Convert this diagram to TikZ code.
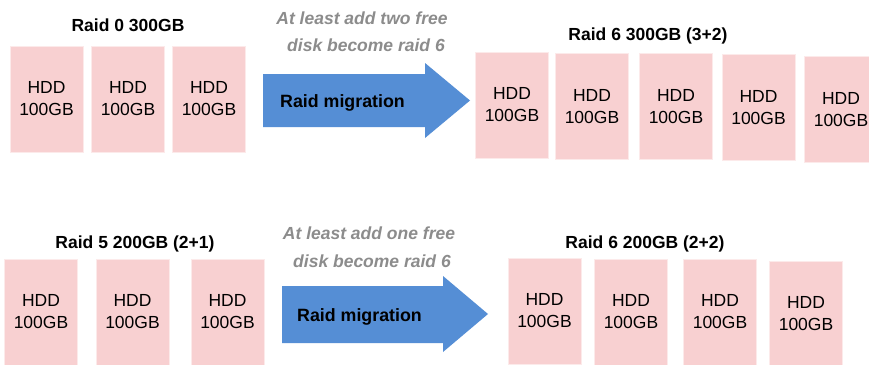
\documentclass[tikz,border=0pt]{standalone}
\usepackage{fontspec}
\setmainfont{Liberation Sans}
\definecolor{hddpink}{HTML}{F8D0D1}
\definecolor{migblue}{HTML}{558ED5}
\definecolor{hintgray}{HTML}{8C8C8C}
\tikzset{
  hdd/.style={fill=hddpink, draw=hddpink!45!white, line width=0.8pt,
    minimum width=73pt, minimum height=106pt, inner sep=0pt, align=center,
    font=\fontsize{17.5}{22}\selectfont},
  raidtitle/.style={anchor=base, inner sep=0pt, font=\bfseries\fontsize{17.5}{21}\selectfont},
  hint/.style={anchor=base, inner sep=0pt, text=hintgray, font=\bfseries\itshape\fontsize{17.5}{21}\selectfont},
  migtext/.style={anchor=base west, inner sep=0pt, font=\bfseries\fontsize{17.8}{21}\selectfont},
}
\begin{document}
\begin{tikzpicture}[x=1pt,y=-1pt]
    \clip (0,0) rectangle (869,364);
    \fill[white] (0,0) rectangle (869,364);

    % Raid 0 to Raid 6 (3+2)
    \node[raidtitle] (r0) at (128,31) {Raid 0 300GB};
    \foreach \i/\x in {1/46.5, 2/128, 3/209} {
        \node[hdd] (r0d\i) at (\x,99) {HDD\\100GB};
    }
    \node[hint] (h1a) at (362,24) {At least add two free};
    \node[hint] (h1b) at (366,51) {disk become raid 6};
    \fill[migblue] (263,74) -- (425,74) -- (425,63) -- (470,100.5)
        -- (425,138) -- (425,127) -- (263,127) -- cycle;
    \node[migtext] (m1) at (280,107) {Raid migration};
    \node[raidtitle] (r6a) at (648,40) {Raid 6 300GB (3+2)};
    \foreach \i/\x/\y in {1/512/105, 2/592/106.5, 3/676/106.5, 4/758.5/107.5, 5/841/109.5} {
        \node[hdd] (r6ad\i) at (\x,\y) {HDD\\100GB};
    }

    % Raid 5 to Raid 6 (2+2)
    \node[raidtitle] (r5) at (135,248) {Raid 5 200GB (2+1)};
    \foreach \i/\x in {1/41, 2/132.5, 3/227.5} {
        \node[hdd] (r5d\i) at (\x,312) {HDD\\100GB};
    }
    \node[hint] (h2a) at (369,239) {At least add one free};
    \node[hint] (h2b) at (372,267) {disk become raid 6};
    \fill[migblue] (282,286) -- (443,286) -- (443,276) -- (488,314)
        -- (443,352) -- (443,343) -- (282,343) -- cycle;
    \node[migtext] (m2) at (297,321) {Raid migration};
    \node[raidtitle] (r6b) at (645,248) {Raid 6 200GB (2+2)};
    \foreach \i/\x/\y in {1/544.5/311, 2/631/312, 3/720/312, 4/806/314} {
        \node[hdd] (r6bd\i) at (\x,\y) {HDD\\100GB};
    }
\end{tikzpicture}
\end{document}
